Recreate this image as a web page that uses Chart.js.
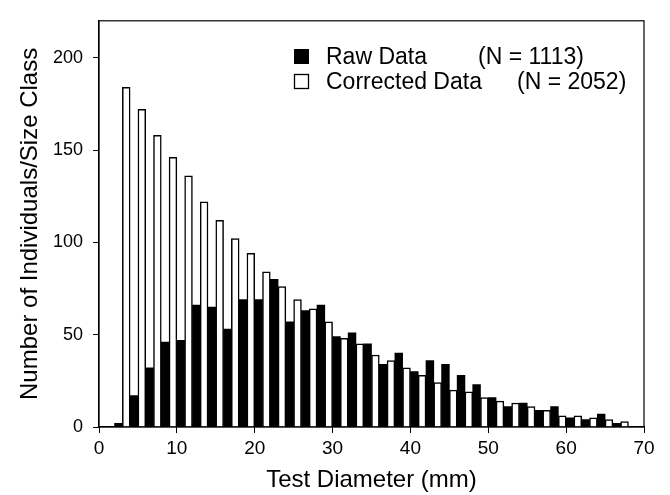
<!DOCTYPE html>
<html><head><meta charset="utf-8">
<script src="https://cdn.jsdelivr.net/npm/chart.js@4.4.1/dist/chart.umd.min.js"></script>
<style>html,body{margin:0;padding:0;background:#fff;}</style>
</head><body>
<canvas id="c" width="670" height="495"></canvas>
<script>
// Size classes (2 mm wide), given by their midpoints (mm)
const sizeClassMid = [3,5,7,9,11,13,15,17,19,21,23,25,27,29,31,33,35,37,39,41,43,45,47,49,51,53,55,57,59,61,63,65,67];
// Raw data (black bars)
const rawData = [2,17,32,46,47,66,65,53,69,69,80,57,63,66,49,51,45,34,40,30,36,34,28,23,16,11,13,9,11,5,4,7,2];
// Corrected data (white bars)
const correctedData = [184,172,158,146,136,122,112,102,94,84,76,69,64,57,48,45,39,36,32,28,24,20,19,16,14,13,11,9,6,6,5,4,3];
const xTicks = [0,10,20,30,40,50,60,70];
const yTicks = [0,50,100,150,200];
const seriesNames = ['Raw Data','Corrected Data'];
const seriesN = ['(N = 1113)','(N = 2052)'];

const FONT = "'Liberation Sans', Arial, sans-serif";

const framePlugin = {
  id:'frame',
  afterDraw(chart){
    const {ctx, chartArea:a} = chart;
    ctx.save();
    ctx.strokeStyle='#000'; ctx.lineWidth=1.2;
    ctx.strokeRect(a.left, a.top, a.right-a.left, a.bottom-a.top);
    ctx.restore();
  }
};

const legendPlugin = {
  id:'customLegend',
  afterDraw(chart){
    const ctx = chart.ctx;
    ctx.save();
    ctx.font = "23px " + FONT;
    ctx.fillStyle = '#000';
    ctx.textBaseline = 'alphabetic';
    // Raw data
    ctx.fillRect(294, 49, 15, 15);
    ctx.fillText(seriesNames[0], 326, 64);
    ctx.fillText(seriesN[0], 478, 64);
    // Corrected
    ctx.lineWidth = 1.3; ctx.strokeStyle='#000';
    ctx.fillStyle='#fff'; ctx.fillRect(294.5, 74.5, 14, 14);
    ctx.strokeRect(294.5, 74.5, 14, 14);
    ctx.fillStyle='#000';
    ctx.fillText(seriesNames[1], 326, 89);
    ctx.fillText(seriesN[1], 517, 89);
    ctx.restore();
  }
};

new Chart(document.getElementById('c'), {
  type:'bar',
  data:{
    labels: sizeClassMid,
    datasets:[
      {label:seriesNames[0], data:rawData, backgroundColor:'#000', borderColor:'#000', borderWidth:0, categoryPercentage:1, barPercentage:1},
      {label:seriesNames[1], data:correctedData, backgroundColor:'#fff', borderColor:'#000', borderWidth:1.5, categoryPercentage:1, barPercentage:1}
    ]
  },
  options:{
    responsive:false, animation:false, devicePixelRatio:1,
    layout:{padding:{top:14, right:26, left:0, bottom:0}},
    plugins:{legend:{display:false}, tooltip:{enabled:false}},
    scales:{
      x:{
        type:'linear', min:0, max:70, offset:false,
        afterBuildTicks:s=>{ s.ticks = xTicks.map(v=>({value:v})); },
        afterFit:s=>{ s.height = 68; },
        ticks:{color:'#000', font:{family:FONT, size:19}, padding:4, maxRotation:0, autoSkip:false},
        grid:{display:true, offset:false, drawOnChartArea:false, drawTicks:true, tickLength:6, color:'#000', lineWidth:1},
        border:{display:true, color:'#000', width:1.2},
        title:{display:true, text:'Test Diameter (mm)', color:'#000', font:{family:FONT, size:24}, padding:{top:0, bottom:0}}
      },
      y:{
        type:'linear', min:0, max:220,
        afterBuildTicks:s=>{ s.ticks = yTicks.map(v=>({value:v})); },
        afterFit:s=>{ s.width = 99; },
        ticks:{color:'#000', font:{family:FONT, size:18}, padding:10},
        grid:{display:true, drawOnChartArea:false, drawTicks:true, tickLength:6, color:'#000', lineWidth:1},
        border:{display:true, color:'#000', width:1.2},
        title:{display:true, text:'Number of Individuals/Size Class', color:'#000', font:{family:FONT, size:24}, padding:{top:16, bottom:0}}
      }
    }
  },
  plugins:[framePlugin, legendPlugin]
});
</script>
</body></html>
